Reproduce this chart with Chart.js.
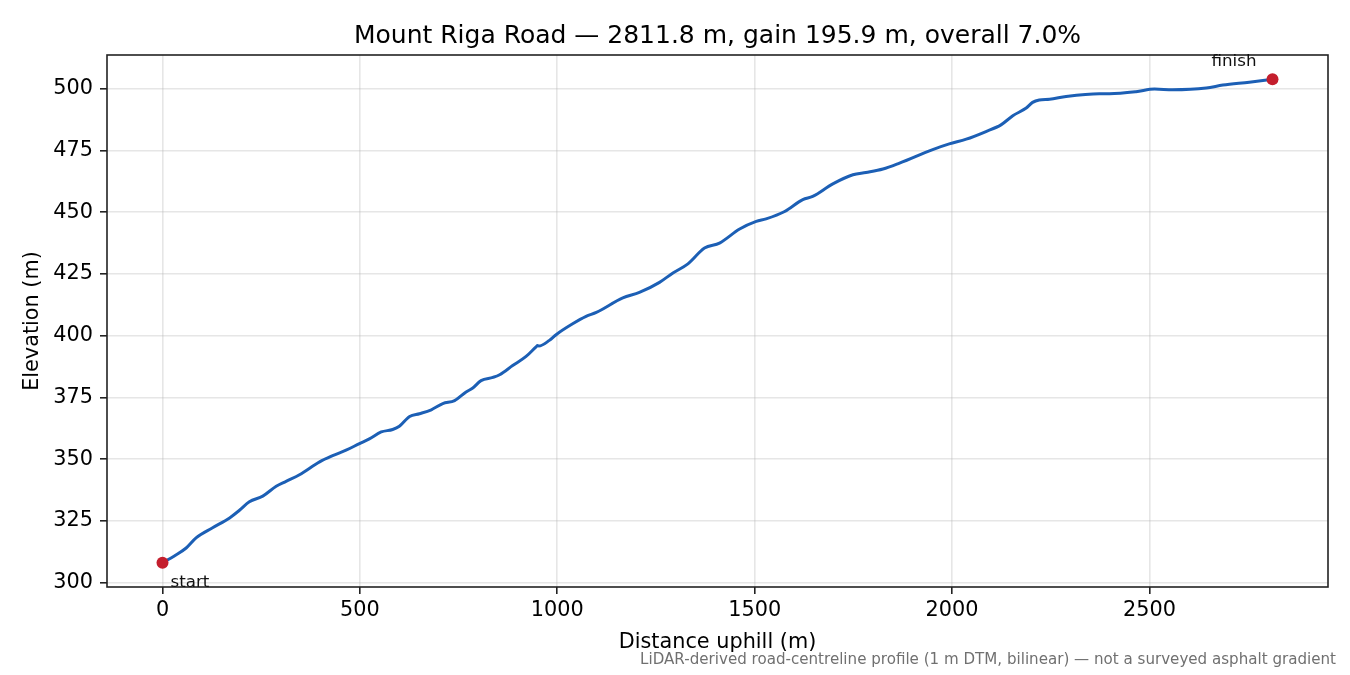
<!DOCTYPE html>
<html>
<head>
<meta charset="utf-8">
<script src="https://cdn.jsdelivr.net/npm/chart.js@4.4.1/dist/chart.umd.min.js"></script>
<style>
  html, body { margin: 0; padding: 0; background: #fff; }
  #wrap { width: 1350px; height: 675px; }
</style>
</head>
<body>
<div id="wrap"><canvas id="c" width="1350" height="675"></canvas></div>
<script>
// ---- Data ----
const distance = [0, 30, 60, 85, 127, 170, 195, 220, 254, 288, 313, 347, 398, 431, 465, 499, 524, 554, 583, 600,
  626, 651, 681, 710, 740, 769, 786, 807, 837, 854, 887, 921, 947, 950, 953, 980, 997, 1039, 1073, 1099,
  1166, 1208, 1259, 1293, 1331, 1373, 1411, 1462, 1504, 1529, 1576, 1622, 1647, 1698, 1749, 1782, 1825, 1867,
  1951, 1993, 2036, 2086, 2124, 2154, 2188, 2204, 2221, 2247, 2289, 2373, 2399, 2466, 2513, 2559, 2644, 2686,
  2753, 2811.8];
const elevation = [308.0, 310.8, 314.0, 318.1, 322.2, 326.2, 329.3, 332.7, 335.0, 339.0, 341.0, 343.7, 348.9, 351.4, 353.6, 356.3, 358.2, 361.0, 362.0, 363.3,
  367.3, 368.4, 370.0, 372.5, 373.7, 377.2, 378.8, 381.8, 383.1, 384.2, 387.9, 391.6, 395.6, 396.0, 395.8, 398.1, 400.4, 404.8, 407.8, 409.4,
  415.3, 417.5, 421.6, 425.4, 429.1, 435.5, 437.5, 443.2, 446.3, 447.3, 450.3, 455.1, 456.4, 461.5, 465.2, 466.1, 467.5, 469.9,
  475.4, 477.7, 479.6, 482.7, 485.4, 489.1, 492.2, 494.5, 495.5, 495.8, 496.9, 498.0, 498.0, 498.8, 499.9, 499.6, 500.3, 501.5,
  502.7, 503.9];
const endpointLabels = ['start', 'finish'];
const xTickValues = [0, 500, 1000, 1500, 2000, 2500];
const yTickValues = [300, 325, 350, 375, 400, 425, 450, 475, 500];
const titleText = 'Mount Riga Road \u2014 2811.8 m, gain 195.9 m, overall 7.0%';
const xLabel = 'Distance uphill (m)';
const yLabel = 'Elevation (m)';
const footnote = 'LiDAR-derived road-centreline profile (1 m DTM, bilinear) \u2014 not a surveyed asphalt gradient';

// ---- Derived ----
const profile = distance.map((d, i) => ({x: d, y: elevation[i]}));
const endpoints = [profile[0], profile[profile.length - 1]];
const xMinD = Math.min(...distance), xMaxD = Math.max(...distance);
const yMinD = Math.min(...elevation), yMaxD = Math.max(...elevation);
const xm = (xMaxD - xMinD) * 0.05, ym = (yMaxD - yMinD) * 0.05;

const FONT = "'DejaVu Sans', 'Liberation Sans', sans-serif";
const SPINE = '#222222';

const decor = {
  id: 'decor',
  afterDatasetsDraw(chart) {
    const {ctx, chartArea: a, scales} = chart;
    ctx.save();
    // full box spines
    ctx.strokeStyle = SPINE;
    ctx.lineWidth = 1.6;
    ctx.strokeRect(a.left, a.top, a.right - a.left, a.bottom - a.top);
    // endpoint annotations
    ctx.fillStyle = '#111';
    ctx.font = '16.7px ' + FONT;
    ctx.textBaseline = 'middle';
    const sx = scales.x.getPixelForValue(endpoints[0].x), sy = scales.y.getPixelForValue(endpoints[0].y);
    ctx.textAlign = 'left';
    ctx.fillText(endpointLabels[0], sx + 8, sy + 20);
    const fx = scales.x.getPixelForValue(endpoints[1].x), fy = scales.y.getPixelForValue(endpoints[1].y);
    ctx.textAlign = 'right';
    ctx.fillText(endpointLabels[1], fx - 16, fy - 18);
    // title
    ctx.fillStyle = '#000';
    ctx.font = '25px ' + FONT;
    ctx.textAlign = 'center';
    ctx.fillText(titleText, (a.left + a.right) / 2, a.top - 19);
    // footnote
    ctx.fillStyle = '#707070';
    ctx.font = '15.1px ' + FONT;
    ctx.textAlign = 'right';
    ctx.fillText(footnote, chart.width - 14, chart.height - 15);
    ctx.restore();
  }
};

function fixedTicks(values) {
  return function (s) { s.ticks = values.map(v => ({ value: v })); };
}

new Chart(document.getElementById('c'), {
  type: 'line',
  data: {
    datasets: [
      {
        label: 'profile',
        data: profile,
        borderColor: '#1c5fb5',
        borderWidth: 3,
        pointRadius: 0,
        fill: false,
        cubicInterpolationMode: 'monotone',
        order: 2
      },
      {
        label: 'endpoints',
        data: endpoints,
        showLine: false,
        pointRadius: 6,
        pointBackgroundColor: '#c41e2d',
        pointBorderWidth: 0,
        borderColor: '#c41e2d',
        order: 1
      }
    ]
  },
  options: {
    responsive: false,
    animation: false,
    devicePixelRatio: 1,
    layout: { padding: { top: 55, right: 22, bottom: 0, left: 0 } },
    plugins: { legend: { display: false }, title: { display: false }, tooltip: { enabled: false } },
    scales: {
      x: {
        type: 'linear',
        min: xMinD - xm,
        max: xMaxD + xm,
        afterBuildTicks: fixedTicks(xTickValues),
        afterFit(s) { s.height = 88; },
        ticks: {
          autoSkip: false,
          font: { family: FONT, size: 20.8 },
          color: '#000',
          padding: 4,
          maxRotation: 0,
          callback: v => String(v)
        },
        grid: {
          color: 'rgba(176,176,176,0.32)',
          lineWidth: 1.6,
          tickColor: SPINE,
          tickLength: 7,
          tickWidth: 1.6,
          drawTicks: true
        },
        border: { display: false },
        title: {
          display: true,
          text: xLabel,
          font: { family: FONT, size: 20.8 },
          color: '#000',
          padding: { top: 0, bottom: 20 }
        }
      },
      y: {
        type: 'linear',
        min: yMinD - ym,
        max: yMaxD + ym,
        afterBuildTicks: fixedTicks(yTickValues),
        afterFit(s) { s.width = 107; },
        ticks: {
          autoSkip: false,
          font: { family: FONT, size: 20.8 },
          color: '#000',
          padding: 7,
          callback: v => String(v)
        },
        grid: {
          color: 'rgba(176,176,176,0.32)',
          lineWidth: 1.6,
          tickColor: SPINE,
          tickLength: 7,
          tickWidth: 1.6,
          drawTicks: true
        },
        border: { display: false },
        title: {
          display: true,
          text: yLabel,
          font: { family: FONT, size: 20.8 },
          color: '#000',
          padding: { top: 20, bottom: 0 }
        }
      }
    }
  },
  plugins: [decor]
});
</script>
</body>
</html>
